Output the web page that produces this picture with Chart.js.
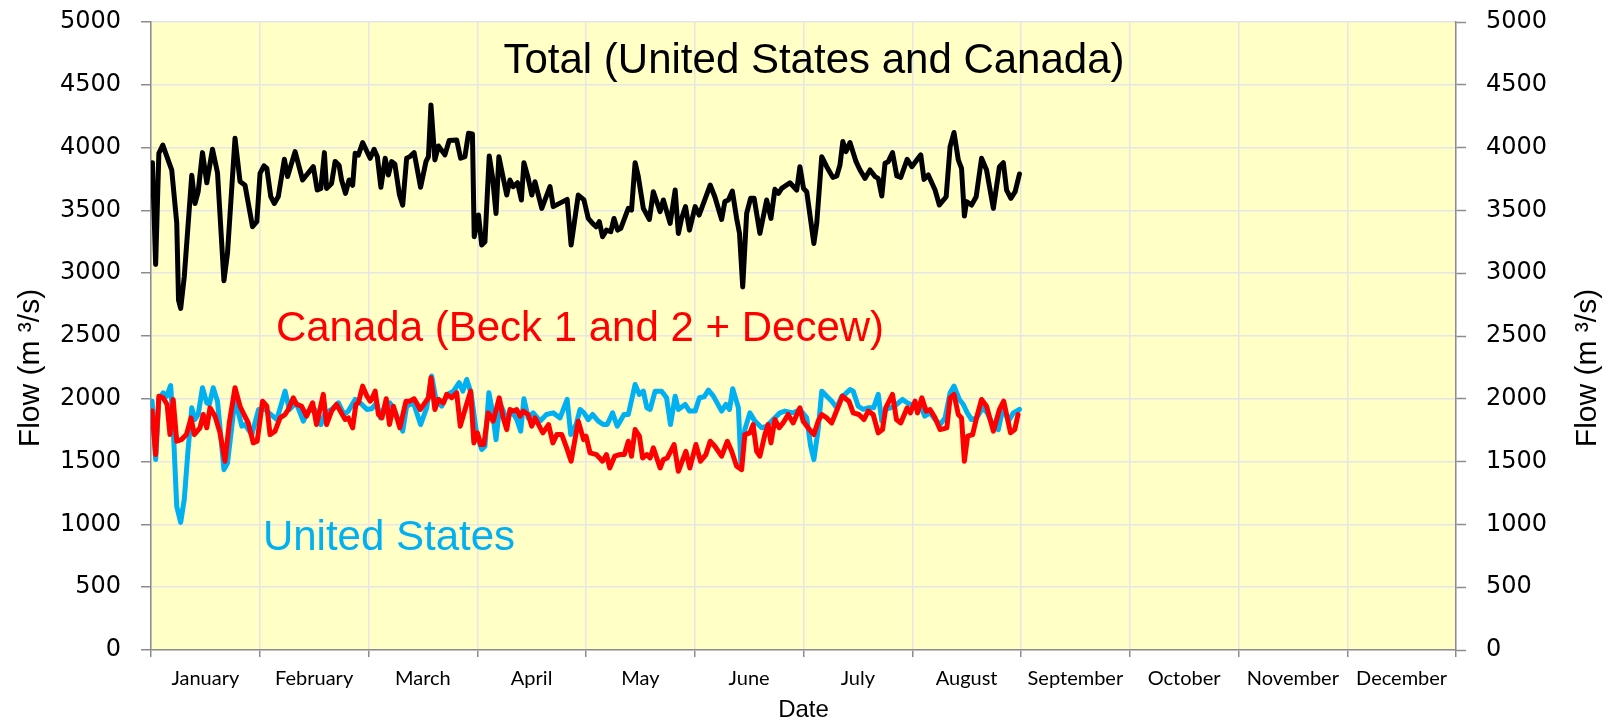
<!DOCTYPE html>
<html>
<head>
<meta charset="utf-8">
<script src="https://cdn.jsdelivr.net/npm/chart.js@4/dist/chart.umd.min.js"></script>
<style>
  html, body { margin: 0; padding: 0; background: #ffffff; }
  #wrap { width: 1619px; height: 728px; }
</style>
</head>
<body>
<div id="wrap"><canvas id="c" width="1619" height="728"></canvas></div>
<script>
// ---- Data (day of year, flow in m3/s) ----
const months = ['January','February','March','April','May','June','July','August','September','October','November','December'];

const totalDay = [0.4,1.3,2.2,3.3,5.8,7.2,7.7,8.3,9.3,11.4,12.3,13.2,14.4,15.6,17.2,18.6,20.4,21.4,23.5,24.9,26.3,28.4,29.6,30.5,31.6,32.4,33.5,34.5,35.6,37.3,38.2,40.3,42.4,45.4,46.5,47.5,48.5,49.1,50.5,51.5,52.6,53.3,54.4,55.4,56.4,57.1,58,59.2,61.3,
  62.4,63.3,64.3,65.5,66.4,67.3,68.2,69.5,70.4,71.5,72.4,73.6,75.4,76.9,77.6,78.3,79.4,80.4,82.2,83.4,85.5,86.6,87.8,88.8,89.9,90.4,91.6,92.5,93.4,94.6,95.5,96.5,97.3,99.5,100.4,101.3,102.5,103.6,104.3,105.4,106.5,107.4,109.3,111.6,112.5,116.4,117.5,119.5,
  121.1,122.3,123.5,124.5,125.4,126.3,127.4,128.6,129.5,130.5,131.4,133.5,134.4,135.4,136.3,137.7,139.4,140.5,142.4,143.3,145.2,146.6,147.5,148.4,149.5,150.6,152.2,153.3,154.7,156.4,157.7,159.6,160.5,161.5,162.6,163.8,164.6,165.5,166.6,167.7,168.7,170.3,172.2,173.4,174.5,175.5,176.4,178.7,180.6,181.5,182.5,
  183.4,185.4,186.2,187.6,189,190.7,191.8,192.7,193.5,194.4,195.5,197.2,198.3,199.7,201.1,202.5,203.4,204.4,205.3,206.2,207.4,208.6,209.7,211.5,212.8,214.2,215.3,216.2,217.4,219.3,220.5,222.4,223.5,224.6,225.8,226.7,227.5,228.1,229.5,230.8,232.3,233.7,235.6,237.3,238.4,239.3,240.5,241.7,242.9];
const totalFlow = [3880,3070,3955,4020,3820,3400,2785,2720,2970,3780,3555,3650,3960,3720,3987,3800,2940,3160,4075,3730,3700,3370,3410,3795,3855,3835,3610,3555,3610,3907,3770,3968,3742,3848,3662,3675,3960,3675,3715,3890,3860,3742,3636,3742,3700,3955,3940,4040,3915,
  3987,3928,3684,3915,3782,3888,3870,3622,3542,3915,3928,3960,3684,3888,3928,4340,3902,4013,3942,4056,4061,3915,3928,4114,4109,3290,3463,3224,3250,3934,3769,3476,3928,3622,3742,3689,3720,3583,3880,3769,3622,3728,3516,3689,3530,3588,3224,3622,
  3583,3436,3397,3370,3410,3290,3343,3330,3436,3343,3357,3516,3503,3880,3769,3516,3428,3649,3490,3583,3397,3662,3317,3436,3530,3343,3530,3463,3570,3702,3609,3428,3570,3583,3654,3436,3317,2891,3476,3596,3596,3317,3583,3436,3668,3636,3675,3720,3662,3848,3675,
  3649,3237,3397,3928,3848,3763,3774,3862,4048,3968,4040,3888,3822,3755,3822,3769,3755,3614,3875,3888,3960,3774,3763,3907,3848,3902,3942,3747,3782,3662,3543,3609,4008,4120,3902,3835,3455,3570,3543,3609,3915,3822,3516,3848,3880,3662,3596,3649,3790];

const usDay = [0.3,1.3,2.2,3.4,4.4,5.5,6.2,7.2,8.3,9.3,10.3,11.4,12.3,13.2,14.4,15.6,16.3,17.4,18.6,20.4,21.4,23.5,25.4,26.3,28.2,30.1,32,33.5,35.2,37.5,38.7,40.6,42.6,44,45.8,47.5,48.7,50.5,52.4,54,55.2,57.1,58.5,60.4,
  61.7,63.1,64.2,65.4,66.8,68.2,70.4,71.5,73.4,75.4,77.1,78.5,79.7,81.3,82.9,84.6,86.2,87.2,88.3,89.5,91.1,92.5,93.4,94.5,95.5,96.5,97.6,99.5,100.9,102.3,103.4,104.3,105.5,106.9,108.8,110.6,112.5,114.4,116.4,117.4,118.9,
  120,121.1,122.3,123.5,125.1,126.5,127.6,129.1,130.4,132.3,133.5,135.4,136.6,137.7,138.7,139.6,141,142.8,144.2,145.3,146.6,147.5,149.4,150.6,152.2,153.4,154.7,155.9,157.3,159.6,160.8,161.8,162.7,164.3,165,166.1,167.5,168.9,170.8,172.2,174,175.9,177.3,179.6,
  181.5,183.4,184.5,185.4,186.6,187.6,189,190.4,191.8,193.2,194.1,195.5,196.4,197.8,199.2,200.6,202.1,203.4,204.4,205.5,206.8,208.5,210.2,211.5,213.7,215.1,216.4,217.9,219.3,220.7,222.1,223.5,224.6,226.1,227.2,228.3,229.5,230.9,232.6,233.9,235.6,237,238.4,239.8,241.2,242.9];
const usFlow = [1981,1516,1995,2048,2021,2106,1782,1143,1016,1197,1569,1928,1835,1875,2088,1968,1955,2088,1981,1436,1489,1995,1782,1795,1715,1915,1915,1875,1835,2061,1915,1968,1822,1902,1915,1795,1888,1915,1968,1875,1902,1995,1968,1915,
  1920,1968,1848,1941,1968,1902,1742,1941,1968,1795,1928,2181,1995,1941,2035,2061,2128,2061,2154,2048,1715,1596,1622,2048,1902,1675,1968,1835,1902,1835,1742,2000,1848,1888,1822,1875,1888,1848,1995,1715,1795,
  1915,1888,1835,1875,1822,1795,1795,1888,1782,1875,1875,2114,2035,2061,1928,1915,2061,2061,2008,1795,2021,1915,1955,1902,1902,2008,2016,2069,2021,1902,1955,1915,2080,1928,1463,1755,1888,1822,1769,1782,1835,1888,1902,1888,
  1915,1848,1622,1516,1755,2061,2021,1981,1928,2021,2035,2074,2061,1941,1915,1928,1928,2035,1822,1915,1928,1955,1995,1968,1941,1955,1862,1888,1835,1795,1848,2048,2101,1995,1955,1888,1835,1848,1928,1888,1782,1755,1941,1822,1888,1915];

const canadaDay = [0.3,1.3,2.2,3.4,4.5,5.3,6.2,7.2,8.5,9.9,11.2,12.1,13.7,14.6,15.6,16.5,17.9,19.3,20.7,21.9,23.5,24.9,26,27.2,28.6,29.7,31.2,32.4,33.3,34.7,36.1,37.5,38.4,39.8,40.7,42.1,43.5,45.2,46.3,48.2,49.1,50.5,51.9,54.3,55.2,56.4,57.3,58,59.2,60.4,61.3,
  61.7,62.7,63.6,64.6,65.8,66.7,67.8,69.6,71.3,72.4,73.6,75.3,76.6,77.6,78.3,79.4,80.4,81.8,82.7,84.1,85.5,86.5,88.1,89.4,90.3,91.3,92.2,93.1,94.3,95.7,97.4,98.5,99.5,100.4,101.3,102.3,103.2,104.1,105.5,106.5,107.4,109.6,111.2,112.4,113.5,114.9,116.1,117.5,119.5,
  121,121.7,122.8,124.6,126.3,127.4,128.3,129.7,131.1,132.4,133.5,134.4,135.4,136.6,137.5,138.7,139.6,140.5,142.4,143.3,144.4,146.3,147.5,149.6,150.7,152.4,153.7,155.2,156.4,157.7,159.6,161.2,162.4,163.8,165.2,166.1,167.5,168.4,169.4,170.3,171.7,172.6,173.4,174.5,175.7,176.8,178.2,179.6,
  181.5,182.4,183.8,185.4,186.6,187.6,189,190.4,191.9,193.4,195.2,196.4,198,199.4,200.6,202,203.4,204.6,205.5,207.4,208.5,209.7,211.5,212.4,213.7,214.4,215.6,216.8,217.9,219.3,220.7,222.6,223.5,224.6,225.8,226.7,227.5,228.4,229.8,230.9,232.3,233.7,235.6,237.3,238.5,240.4,241.6,242.5];
const canadaFlow = [1902,1556,2021,2008,1955,1715,1995,1662,1675,1715,1848,1715,1769,1875,1769,1928,1862,1729,1503,1808,2088,1941,1875,1808,1649,1662,1981,1941,1715,1742,1848,1875,1915,2008,1955,1941,1862,1968,1795,2035,1795,1902,1955,1835,1848,1769,1955,1968,2101,2021,1981,
  1995,2061,1875,1848,2000,1795,1941,1769,1981,1981,2000,1915,1968,2008,2168,1915,1995,1968,2035,2008,2048,1782,1941,2061,1649,1729,1636,1636,1888,1822,2008,1848,1755,1915,1902,1915,1862,1902,1875,1782,1848,1729,1795,1649,1715,1715,1622,1503,1822,
  1675,1702,1569,1556,1503,1556,1449,1543,1556,1556,1662,1543,1755,1702,1529,1556,1529,1609,1449,1516,1529,1636,1423,1582,1449,1636,1503,1556,1662,1622,1543,1662,1582,1463,1436,1715,1729,1795,1582,1543,1715,1795,1649,1835,1769,1808,1875,1808,
  1928,1822,1769,1715,1822,1875,1848,1808,1915,2021,1981,1888,1875,1835,1902,1875,1729,1755,1928,2035,1835,1808,1928,1888,1981,1888,2008,1902,1915,1848,1755,1769,2008,2035,1875,1848,1503,1702,1715,1848,1995,1941,1742,1915,1981,1729,1755,1875];

const yMin = 0, yMax = 5000, yStep = 500;
const axisTitle = 'Flow (m \u00B3/s)';
const xTitle = 'Date';
const notes = [
  { text: 'Total (United States and Canada)', color: '#000000', x: 814, y: 61 },
  { text: 'Canada (Beck 1 and 2 + Decew)', color: '#FF0000', x: 580, y: 329 },
  { text: 'United States', color: '#00B0F0', x: 389, y: 538 }
];

// ---- Build points ----
const toPts = (days, vals) => days.map((d, i) => ({ x: d, y: vals[i] }));

const GRID = '#e6e6e6';
const AXIS = '#8c8c8c';

const bgPlugin = {
  id: 'bg',
  beforeDraw(chart) {
    const { ctx, chartArea: a } = chart;
    ctx.save();
    ctx.fillStyle = '#ffffff';
    ctx.fillRect(0, 0, chart.width, chart.height);
    ctx.fillStyle = '#FFFFC6';
    ctx.fillRect(a.left, a.top, a.right - a.left, a.bottom - a.top);
    ctx.restore();
  },
  beforeDatasetsDraw(chart) {
    const { ctx } = chart;
    ctx.save();
    ctx.font = '42px "Liberation Sans", Arial, sans-serif';
    ctx.textAlign = 'center';
    ctx.textBaseline = 'middle';
    notes.forEach(n => { ctx.fillStyle = n.color; ctx.fillText(n.text, n.x, n.y); });
    ctx.restore();
  },
  afterDraw(chart) {
    const { ctx } = chart;
    const cy = 368;
    ctx.save();
    ctx.font = '30px "Liberation Sans", Arial, sans-serif';
    ctx.fillStyle = '#000';
    ctx.textAlign = 'center';
    ctx.textBaseline = 'middle';
    [31, 1588].forEach(cx => {
      ctx.save();
      ctx.translate(cx, cy);
      ctx.rotate(-Math.PI / 2);
      ctx.fillText(axisTitle, 0, 0);
      ctx.restore();
    });
    ctx.restore();
  }
};

const yCommon = {
  type: 'linear', min: yMin, max: yMax,
  ticks: { stepSize: yStep, color: '#000', padding: 20, callback: v => String(v), font: { family: '"DejaVu Sans", sans-serif', size: 24 } },
  border: { color: AXIS, width: 1.5 },
};

new Chart(document.getElementById('c'), {
  type: 'line',
  data: {
    datasets: [
      { label: 'Total', data: toPts(totalDay, totalFlow), borderColor: '#000000', borderWidth: 5, xAxisID: 'x', yAxisID: 'y' },
      { label: 'Canada', data: toPts(canadaDay, canadaFlow), borderColor: '#FF0000', borderWidth: 5, xAxisID: 'x', yAxisID: 'y' },
      { label: 'United States', data: toPts(usDay, usFlow), borderColor: '#00B0F0', borderWidth: 5, xAxisID: 'x', yAxisID: 'y' }
    ]
  },
  options: {
    responsive: false,
    animation: false,
    devicePixelRatio: 1,
    layout: { padding: { top: 22, left: 0, right: 0, bottom: 0 } },
    elements: { point: { radius: 0 }, line: { tension: 0, borderJoinStyle: 'round', borderCapStyle: 'round' } },
    plugins: { legend: { display: false }, tooltip: { enabled: false } },
    scales: {
      x: { type: 'linear', min: 0, max: 365, display: false },
      xm: {
        type: 'category', labels: months, position: 'bottom', offset: true,
        grid: { offset: true, color: GRID, lineWidth: 1.5, tickLength: 7, tickColor: AXIS, tickWidth: 1.5 },
        border: { color: AXIS, width: 1.5 },
        ticks: { color: '#000', padding: 10, maxRotation: 0, autoSkip: false, font: { family: 'Lato, sans-serif', size: 20 } },
        title: { display: true, text: xTitle, color: '#000', padding: { top: 0, bottom: 3 }, font: { family: '"Liberation Sans", Arial, sans-serif', size: 24 } },
        afterFit(s) { s.height = 78; s.paddingLeft = 0; s.paddingRight = 0; }
      },
      y: Object.assign({}, yCommon, {
        position: 'left',
        grid: { color: GRID, lineWidth: 1.5, tickLength: 10, tickColor: AXIS, tickWidth: 1.5 },
        afterFit(s) { s.width = 151; s.paddingTop = 0; s.paddingBottom = 0; }
      }),
      y2: Object.assign({}, yCommon, {
        position: 'right',
        grid: { drawOnChartArea: false, tickLength: 10, tickColor: AXIS, tickWidth: 1.5 },
        afterFit(s) { s.width = 163; s.paddingTop = 0; s.paddingBottom = 0; }
      })
    }
  },
  plugins: [bgPlugin]
});
</script>
</body>
</html>
